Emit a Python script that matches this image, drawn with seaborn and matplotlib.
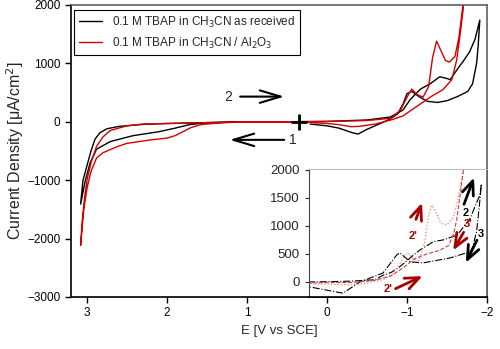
import matplotlib
matplotlib.use("Agg")
import matplotlib.pyplot as plt
import seaborn as sns

# main CV: 0.1 M TBAP in CH3CN as received (E en V vs SCE, j en uA/cm2)
E_recu = [0.35, 0.7, 1.0, 1.5, 1.72, 1.9, 2.1, 2.43, 2.71, 2.88, 2.96, 3.02, 3.08,
          3.05, 3.0, 2.95, 2.9, 2.84, 2.75, 2.6, 2.3, 2.0, 1.5, 1.0, 0.5, 0.0,
          -0.5, -0.79, -0.95, -1.04, -1.17, -1.29, -1.41, -1.5, -1.54, -1.63, -1.7,
          -1.78, -1.85, -1.91, -1.89, -1.87, -1.82, -1.76, -1.63, -1.5, -1.38, -1.25,
          -1.15, -1.06, -1.0, -0.95, -0.88, -0.78, -0.65, -0.5, -0.39, -0.32, -0.15,
          0.0, 0.21]
j_recu = [0, -3, -5, -15, -50, -110, -170, -240, -340, -470, -700, -1000, -1410,
          -1000, -750, -500, -300, -190, -120, -80, -45, -30, -15, -5, 0, 5,
          30, 80, 200, 380, 560, 650, 770, 740, 720, 900, 1030,
          1190, 1410, 1740, 1300, 1000, 650, 520, 430, 360, 330, 350,
          430, 520, 480, 300, 130, 40, -40, -130, -210, -190, -110,
          -70, -40]

# main CV: 0.1 M TBAP in CH3CN / Al2O3
E_alu = [0.35, 1.0, 1.3, 1.58, 1.7, 1.8, 1.9, 2.0, 2.2, 2.5, 2.63, 2.8, 2.88, 2.95,
         3.0, 3.04, 3.08, 3.06, 3.03, 3.0, 2.95, 2.88, 2.8, 2.71, 2.5, 2.3, 1.8,
         1.2, 0.5, 0.0, -0.5, -0.8, -0.92, -1.0, -1.06, -1.12, -1.2, -1.27, -1.32,
         -1.37, -1.42, -1.48, -1.53, -1.6, -1.65, -1.7, -1.72, -1.7, -1.66, -1.62,
         -1.56, -1.45, -1.3, -1.12, -0.95, -0.8, -0.6, -0.4, -0.3, -0.15, 0.0, 0.25]
j_alu = [0, -5, -15, -50, -100, -170, -240, -280, -310, -370, -430, -530, -620, -850,
         -1140, -1500, -2120, -1700, -1300, -1000, -700, -420, -260, -150, -70, -40, -25,
         -10, 0, 5, 20, 60, 200, 420, 560, 470, 420, 600, 1100,
         1380, 1230, 1050, 1020, 1120, 1450, 2000, 2300, 1900, 1450, 1050,
         720, 550, 430, 260, 100, 30, -40, -80, -85, -50, -30, -10]

# encart : cycles 2/3 (recu) et 2'/3' (Al2O3)
E_in_noir = [0.24, 0.0, -0.3, -0.6, -0.7, -0.8, -0.9, -1.04, -1.15, -1.33, -1.45,
             -1.63, -1.79, -1.91, -1.93, -1.9, -1.87, -1.82, -1.79, -1.54, -1.2,
             -1.04, -0.91, -0.87, -0.7, -0.41, -0.2, 0.21]
j_in_noir = [0, 5, 15, 40, 120, 170, 260, 430, 560, 720, 750,
             840, 1140, 1550, 1750, 1300, 900, 620, 540, 430, 340,
             360, 520, 480, 160, 0, -200, -90]
E_in_rouge_2 = [0.24, 0.0, -0.3, -0.5, -0.7, -0.8, -0.9, -0.97, -1.02, -1.08, -1.15,
                -1.22, -1.27, -1.31, -1.36, -1.42, -1.5, -1.58, -1.64, -1.7, -1.72]
j_in_rouge_2 = [-30, -40, -50, -20, 40, 120, 300, 480, 510, 400, 380,
                700, 1200, 1370, 1250, 1050, 1020, 1150, 1500, 1950, 2100]
E_in_rouge_3 = [-1.72, -1.7, -1.66, -1.62, -1.58, -1.52, -1.4, -1.25, -1.1, -0.95,
                -0.8, -0.6, -0.3, 0.0, 0.24]
j_in_rouge_3 = [2100, 1950, 1500, 1100, 850, 650, 560, 500, 420, 250,
                110, 30, -10, -10, -20]

sns.set_style("ticks")
plt.rcParams['font.family'] = ['Liberation Sans', 'DejaVu Sans']

fig = plt.figure(figsize=(5, 3.49), dpi=100)
ax = fig.add_axes([0.142, 0.149, 0.832, 0.837])

sns.lineplot(x=E_recu, y=j_recu, sort=False, estimator=None, ax=ax, color='black',
             lw=1.0, label='0.1 M TBAP in CH$_3$CN as received')
sns.lineplot(x=E_alu, y=j_alu, sort=False, estimator=None, ax=ax, color='#d40000',
             lw=1.0, label='0.1 M TBAP in CH$_3$CN / Al$_2$O$_3$')

ax.set_xlim(3.2, -2.0)
ax.set_ylim(-3000, 2000)
ax.set_xticks([3, 2, 1, 0, -1, -2])
ax.set_yticks([-3000, -2000, -1000, 0, 1000, 2000])
ax.tick_params(direction='out', length=4, width=1, labelsize=8.5, colors='black')
for s in ['left', 'bottom']:
    ax.spines[s].set_color('black')
    ax.spines[s].set_linewidth(1.2)
for s in ['top', 'right']:
    ax.spines[s].set_color('#606060')
    ax.spines[s].set_linewidth(1.2)
ax.set_xlabel('E [V vs SCE]', fontsize=9.5)
ax.set_ylabel('Current Density [\u03bcA/cm$^2$]', fontsize=11.5, labelpad=1)

leg = ax.legend(loc='upper left', bbox_to_anchor=(0.007, 0.983), borderaxespad=0,
                fancybox=False, fontsize=8.5, handlelength=2.0, framealpha=1)
leg.get_frame().set_edgecolor('black')
leg.get_frame().set_linewidth(0.8)

# sens de balayage
ax.plot([0.35], [0], marker='+', ms=12, mew=2, color='black')
ax.annotate('', xy=(0.5, 430), xytext=(1.12, 430),
            arrowprops=dict(arrowstyle='->,head_length=1.5,head_width=0.45', lw=1.5, color='black'))
ax.text(1.18, 430, '2', fontsize=10, va='center', ha='right')
ax.annotate('', xy=(1.25, -310), xytext=(0.5, -310),
            arrowprops=dict(arrowstyle='->,head_length=1.5,head_width=0.45', lw=1.5, color='black'))
ax.text(0.47, -310, '1', fontsize=10, va='center', ha='left')

# encart
ax_in = fig.add_axes([0.618, 0.149, 0.356, 0.367])
ax_in.set_facecolor('white')
sns.lineplot(x=E_in_noir, y=j_in_noir, sort=False, estimator=None, ax=ax_in,
             color='black', lw=0.8, linestyle='-.')
sns.lineplot(x=E_in_rouge_2, y=j_in_rouge_2, sort=False, estimator=None, ax=ax_in,
             color='#e88080', lw=0.9, linestyle=':')
sns.lineplot(x=E_in_rouge_3, y=j_in_rouge_3, sort=False, estimator=None, ax=ax_in,
             color='#c84040', lw=0.8, linestyle='--')
ax_in.set_xlim(0.225, -2.0)
ax_in.set_ylim(-268, 2018)
ax_in.set_xticks([])
ax_in.set_yticks([0, 500, 1000, 1500, 2000])
ax_in.tick_params(direction='out', length=3, width=0.8, labelsize=9.5)
ax_in.spines['left'].set_color('#404040')
ax_in.spines['left'].set_linewidth(0.8)
ax_in.spines['top'].set_color('#c0c0c0')
ax_in.spines['top'].set_linewidth(0.8)
ax_in.spines['right'].set_color('#606060')
ax_in.spines['right'].set_linewidth(1.2)
ax_in.spines['bottom'].set_color('black')
ax_in.spines['bottom'].set_linewidth(1.2)

fl = dict(arrowstyle='->,head_length=1.0,head_width=0.42', lw=2.0)
rouge = '#a80000'
ax_in.annotate('', xy=(-1.2, 1460), xytext=(-1.10, 1070), arrowprops=dict(fl, color=rouge))
ax_in.text(-1.07, 820, "2'", color=rouge, fontsize=8, fontweight='bold', ha='center', va='center')
ax_in.annotate('', xy=(-1.225, 125), xytext=(-0.825, -140), arrowprops=dict(fl, color=rouge))
ax_in.text(-0.76, -130, "2'", color=rouge, fontsize=8, fontweight='bold', ha='center', va='center')
ax_in.annotate('', xy=(-1.56, 520), xytext=(-1.725, 930), arrowprops=dict(fl, color=rouge))
ax_in.text(-1.77, 1040, "3'", color=rouge, fontsize=8, fontweight='bold', ha='center', va='center')
ax_in.annotate('', xy=(-1.85, 1910), xytext=(-1.70, 1340), arrowprops=dict(fl, color='black'))
ax_in.text(-1.73, 1230, '2', color='black', fontsize=8, fontweight='bold', ha='center', va='center')
ax_in.annotate('', xy=(-1.72, 300), xytext=(-1.89, 790), arrowprops=dict(fl, color='black'))
ax_in.text(-1.92, 850, '3', color='black', fontsize=8, fontweight='bold', ha='center', va='center')

plt.savefig('out.png', dpi=100)
